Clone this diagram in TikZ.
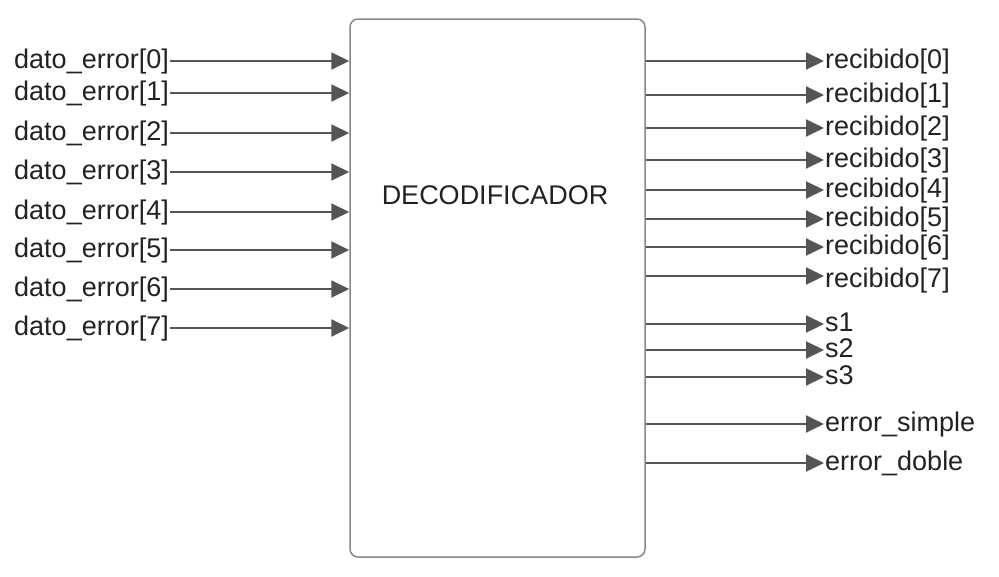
\documentclass[tikz,border=0pt]{standalone}
\usepackage{fontspec}
\setmainfont{Liberation Sans}
\usepackage{tikz}
\usetikzlibrary{arrows.meta, positioning}
\definecolor{wire}{HTML}{555555}
\definecolor{frame}{HTML}{888888}
\definecolor{ink}{HTML}{222222}
\tikzstyle{arrow} = [line width=2pt, draw=wire, -{Triangle[length=18pt,width=17pt]}, color=wire]
\tikzstyle{sig} = [text=ink, font=\fontsize{27}{32}\selectfont, inner sep=1pt, text height=20pt, text depth=6pt]
\tikzstyle{block} = [draw=frame, line width=1.5pt, rounded corners=8pt, minimum width=295pt, minimum height=538pt, inner sep=0pt]
\begin{document}
\begin{tikzpicture}[x=1pt,y=-1pt]
                            \useasboundingbox (0,0) rectangle (999,576);
                            \node [block] (dec) at (497.5,288) {};
                            \node [sig] (title) at (495,197) {DECODIFICADOR};
                            % entradas
                            \node [sig, anchor=east] (in0) at (170,61) {dato\_error[0]};
                            \node [sig, anchor=east] (in1) at (170,93) {dato\_error[1]};
                            \node [sig, anchor=east] (in2) at (170,133) {dato\_error[2]};
                            \node [sig, anchor=east] (in3) at (170,172) {dato\_error[3]};
                            \node [sig, anchor=east] (in4) at (170,212) {dato\_error[4]};
                            \node [sig, anchor=east] (in5) at (170,250) {dato\_error[5]};
                            \node [sig, anchor=east] (in6) at (170,289) {dato\_error[6]};
                            \node [sig, anchor=east] (in7) at (170,328) {dato\_error[7]};
                            \draw [arrow] (in0.east) -- (in0.east -| dec.west);
                            \draw [arrow] (in1.east) -- (in1.east -| dec.west);
                            \draw [arrow] (in2.east) -- (in2.east -| dec.west);
                            \draw [arrow] (in3.east) -- (in3.east -| dec.west);
                            \draw [arrow] (in4.east) -- (in4.east -| dec.west);
                            \draw [arrow] (in5.east) -- (in5.east -| dec.west);
                            \draw [arrow] (in6.east) -- (in6.east -| dec.west);
                            \draw [arrow] (in7.east) -- (in7.east -| dec.west);
                            % salidas
                            \node [sig, anchor=west] (out0) at (824,61) {recibido[0]};
                            \node [sig, anchor=west] (out1) at (824,95) {recibido[1]};
                            \node [sig, anchor=west] (out2) at (824,128) {recibido[2]};
                            \node [sig, anchor=west] (out3) at (824,160) {recibido[3]};
                            \node [sig, anchor=west] (out4) at (824,190) {recibido[4]};
                            \node [sig, anchor=west] (out5) at (824,219) {recibido[5]};
                            \node [sig, anchor=west] (out6) at (824,247) {recibido[6]};
                            \node [sig, anchor=west] (out7) at (824,280) {recibido[7]};
                            \node [sig, anchor=west] (s1) at (824,324) {s1};
                            \node [sig, anchor=west] (s2) at (824,350) {s2};
                            \node [sig, anchor=west] (s3) at (824,377) {s3};
                            \node [sig, anchor=west] (esimple) at (824,424) {error\_simple};
                            \node [sig, anchor=west] (edoble) at (824,463) {error\_doble};
                            \draw [arrow] (out0.west -| dec.east) -- (out0.west);
                            \draw [arrow] (out1.west -| dec.east) -- (out1.west);
                            \draw [arrow] (out2.west -| dec.east) -- (out2.west);
                            \draw [arrow] (out3.west -| dec.east) -- (out3.west);
                            \draw [arrow] (out4.west -| dec.east) -- (out4.west);
                            \draw [arrow] (out5.west -| dec.east) -- (out5.west);
                            \draw [arrow] (out6.west -| dec.east) -- (out6.west);
                            \draw [arrow] ([yshift=4pt]out7.west -| dec.east) -- ([yshift=4pt]out7.west);
                            \draw [arrow] (s1.west -| dec.east) -- (s1.west);
                            \draw [arrow] (s2.west -| dec.east) -- (s2.west);
                            \draw [arrow] (s3.west -| dec.east) -- (s3.west);
                            \draw [arrow] (esimple.west -| dec.east) -- (esimple.west);
                            \draw [arrow] (edoble.west -| dec.east) -- (edoble.west);
                        \end{tikzpicture}
\end{document}
